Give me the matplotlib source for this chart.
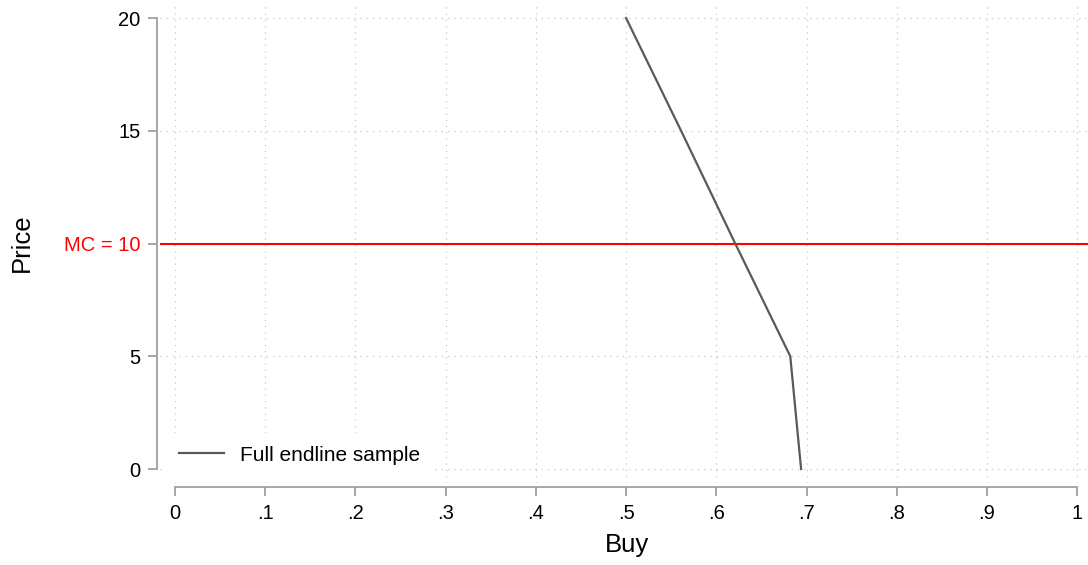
import matplotlib
matplotlib.use("Agg")
import matplotlib.pyplot as plt

plt.rcParams["font.family"] = ["Liberation Sans", "DejaVu Sans"]

# demand curve
price = [0, 5, 10, 15, 20]
buy = [0.694, 0.682, 0.621, 0.561, 0.500]
mc = 10

xticks = [0, .1, .2, .3, .4, .5, .6, .7, .8, .9, 1]
xticklabels = ["0", ".1", ".2", ".3", ".4", ".5", ".6", ".7", ".8", ".9", "1"]
yticks = [0, 5, 10, 15, 20]
yticklabels = ["0", "5", "MC = 10", "15", "20"]

axis_grey = "#a6a6a6"

fig = plt.figure(figsize=(10.88, 5.65), dpi=100)
ax = fig.add_axes([160 / 1088, 82 / 565, 928 / 1088, 478 / 565])

ax.grid(True, color="#c8c8c8", linestyle=(0, (1, 4)), linewidth=0.9)
ax.set_axisbelow(True)

ax.axhline(mc, color="#ff0000", linewidth=1.5, zorder=2)
ax.plot(buy, price, color="#5a5a5a", linewidth=1.6, label="Full endline sample", zorder=3)

ax.set_xlim(-0.0166, 1.012)
ax.set_ylim(-0.62, 20.58)

ax.set_xticks(xticks)
ax.set_xticklabels(xticklabels)
ax.set_yticks(yticks)
ax.set_yticklabels(yticklabels)

for s in ["top", "right"]:
    ax.spines[s].set_visible(False)
ax.spines["left"].set_position(("outward", 2))
ax.spines["bottom"].set_position(("outward", 3))
ax.spines["left"].set_bounds(0, 20)
ax.spines["bottom"].set_bounds(0, 1)
for s in ["left", "bottom"]:
    ax.spines[s].set_color(axis_grey)
    ax.spines[s].set_linewidth(1.4)

ax.tick_params(axis="both", colors=axis_grey, labelcolor="black",
               length=6.5, width=1.4, labelsize=14.5, pad=5.5)
ax.get_yticklabels()[2].set_color("#ff0000")

ax.set_xlabel("Buy", fontsize=18.5)
ax.set_ylabel("Price", fontsize=18.5)
ax.xaxis.set_label_coords(0.503, -0.105)
ax.yaxis.set_label_coords(-0.136, 0.502)

leg = ax.legend(loc="lower left", bbox_to_anchor=(0.0065, 0.0125), fontsize=15,
                frameon=True, facecolor="white", edgecolor="none", framealpha=1,
                fancybox=False, handlelength=2.2, handletextpad=0.75,
                borderaxespad=0.0, borderpad=0.6)

fig.savefig("out.png", dpi=100)
